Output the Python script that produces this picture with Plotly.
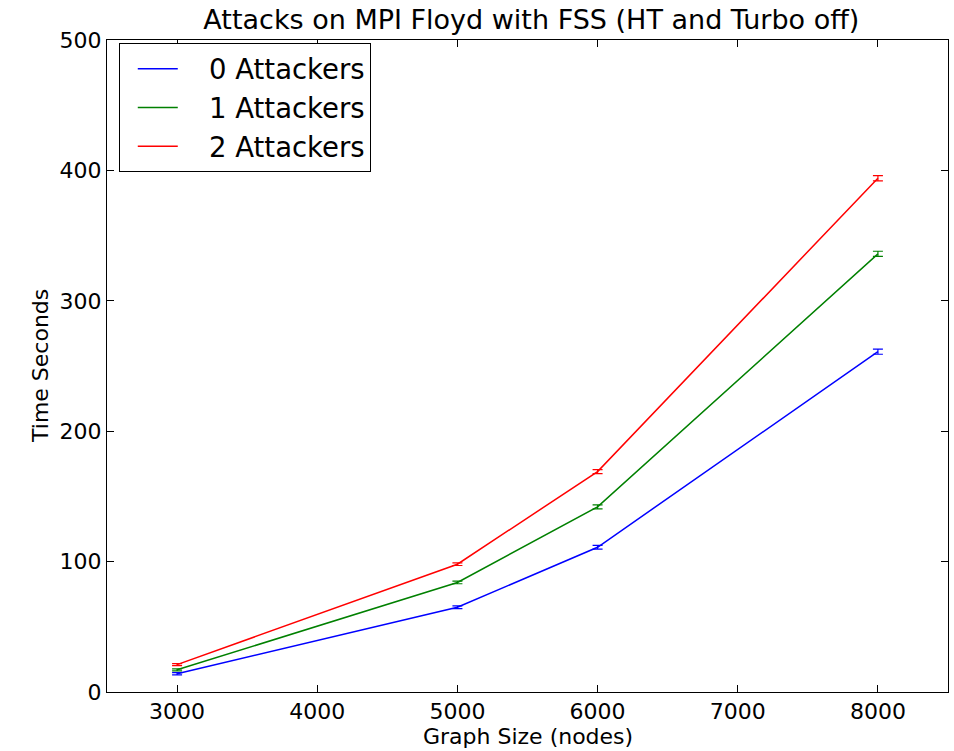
import plotly.graph_objects as go

sizes = [3000, 5000, 6000, 8000]
att0 = [14, 65, 111, 261]
att1 = [17, 84, 142, 336]
att2 = [21, 98, 169, 394]
err0 = [0.8, 1.0, 1.5, 2.0]
err1 = [0.8, 1.0, 1.5, 2.0]
err2 = [0.8, 1.0, 1.5, 2.0]
names = ["0 Attackers", "1 Attackers", "2 Attackers"]
colors = ["#0000ff", "#008000", "#ff0000"]

fig = go.Figure()
for ys, es, n, c in zip([att0, att1, att2], [err0, err1, err2], names, colors):
    fig.add_trace(go.Scatter(
        x=sizes, y=ys, mode="lines", name="\u00a0\u00a0\u00a0" + n,
        line=dict(color=c, width=1.5),
        error_y=dict(type="data", array=es, color=c, thickness=1.2, width=5),
    ))

font = "DejaVu Sans, sans-serif"
axis_common = dict(
    showgrid=False, zeroline=False, showline=True, linecolor="black", linewidth=1,
    mirror="allticks", ticks="inside", ticklen=7, tickcolor="black",
    tickfont=dict(size=22, color="black", family=font), automargin=False,
)
fig.update_layout(
    width=954, height=751,
    paper_bgcolor="white", plot_bgcolor="white",
    margin=dict(l=107, r=6, t=40, b=59),
    title=dict(text="Attacks on MPI Floyd with FSS (HT and Turbo off)",
               x=0.557, xanchor="center", y=0.9734, yanchor="middle",
               font=dict(size=27, color="black", family=font)),
    xaxis=dict(range=[2500, 8500], tickvals=[3000, 4000, 5000, 6000, 7000, 8000], **axis_common),
    yaxis=dict(range=[0, 500], tickvals=[0, 100, 200, 300, 400, 500], **axis_common),
    annotations=[
        dict(text="Graph Size (nodes)", xref="paper", yref="paper", x=0.5, y=-0.069,
             xanchor="center", yanchor="middle", showarrow=False,
             font=dict(size=22, color="black", family=font)),
        dict(text="Time Seconds", xref="paper", yref="paper", x=-0.0797, y=0.5,
             xanchor="center", yanchor="middle", showarrow=False, textangle=-90,
             font=dict(size=22, color="black", family=font)),
    ],
    legend=dict(x=0.014, y=0.995, xanchor="left", yanchor="top",
                bordercolor="black", borderwidth=1, bgcolor="white",
                font=dict(size=27.5, color="black", family=font),
                itemwidth=40, indentation=13, tracegroupgap=0),
    showlegend=True,
)
fig.write_html("out.html", config={"displayModeBar": False},
               post_script="document.body.style.margin='0';document.body.style.padding='0';")
